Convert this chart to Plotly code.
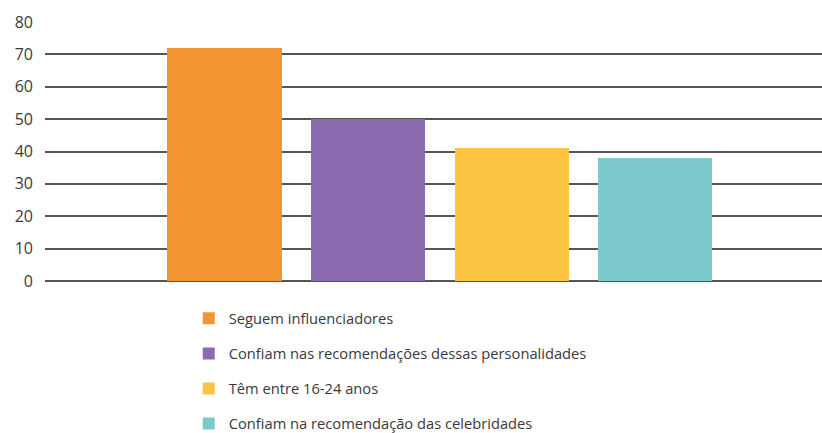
import plotly.graph_objects as go

series_names = [
    "Seguem influenciadores",
    "Confiam nas recomendações dessas personalidades",
    "Têm entre 16-24 anos",
    "Confiam na recomendação das celebridades",
]
series_values = [72, 50, 41, 38]
series_colors = ["#F39433", "#8B6BAF", "#FDC441", "#7CC9CC"]
y_ticks = [0, 10, 20, 30, 40, 50, 60, 70, 80]

fig = go.Figure()
for i, (name, val, col) in enumerate(zip(series_names, series_values, series_colors)):
    fig.add_trace(go.Bar(
        x=[i], y=[val], name=name, width=0.795,
        marker=dict(color=col, line=dict(width=0)),
        legendgroup=f"g{i}",
    ))

fig.update_layout(
    width=822, height=433,
    margin=dict(l=45, r=0, t=21.5, b=151.5, autoexpand=False),
    plot_bgcolor="white", paper_bgcolor="white",
    font=dict(family="Open Sans, sans-serif", color="#3a3a3a"),
    showlegend=True,
    legend=dict(
        x=0.185, xanchor="left", y=-0.082, yanchor="top",
        orientation="v", font=dict(size=14.7, color="#3a3a3a"),
        tracegroupgap=13, traceorder="grouped",
        bgcolor="rgba(0,0,0,0)",
    ),
    xaxis=dict(range=[-1.25, 4.16], showticklabels=False, showgrid=False,
               zeroline=False, showline=False, ticks=""),
    yaxis=dict(range=[0, 80], tickvals=y_ticks, showgrid=True,
               gridcolor="#555555", gridwidth=1.5, zeroline=True,
               zerolinecolor="#555555", zerolinewidth=1.5,
               tickfont=dict(size=16, color="#3a3a3a"), ticklabelstandoff=11,
               showline=False),
    bargap=0,
)

fig.write_html("out.html")
